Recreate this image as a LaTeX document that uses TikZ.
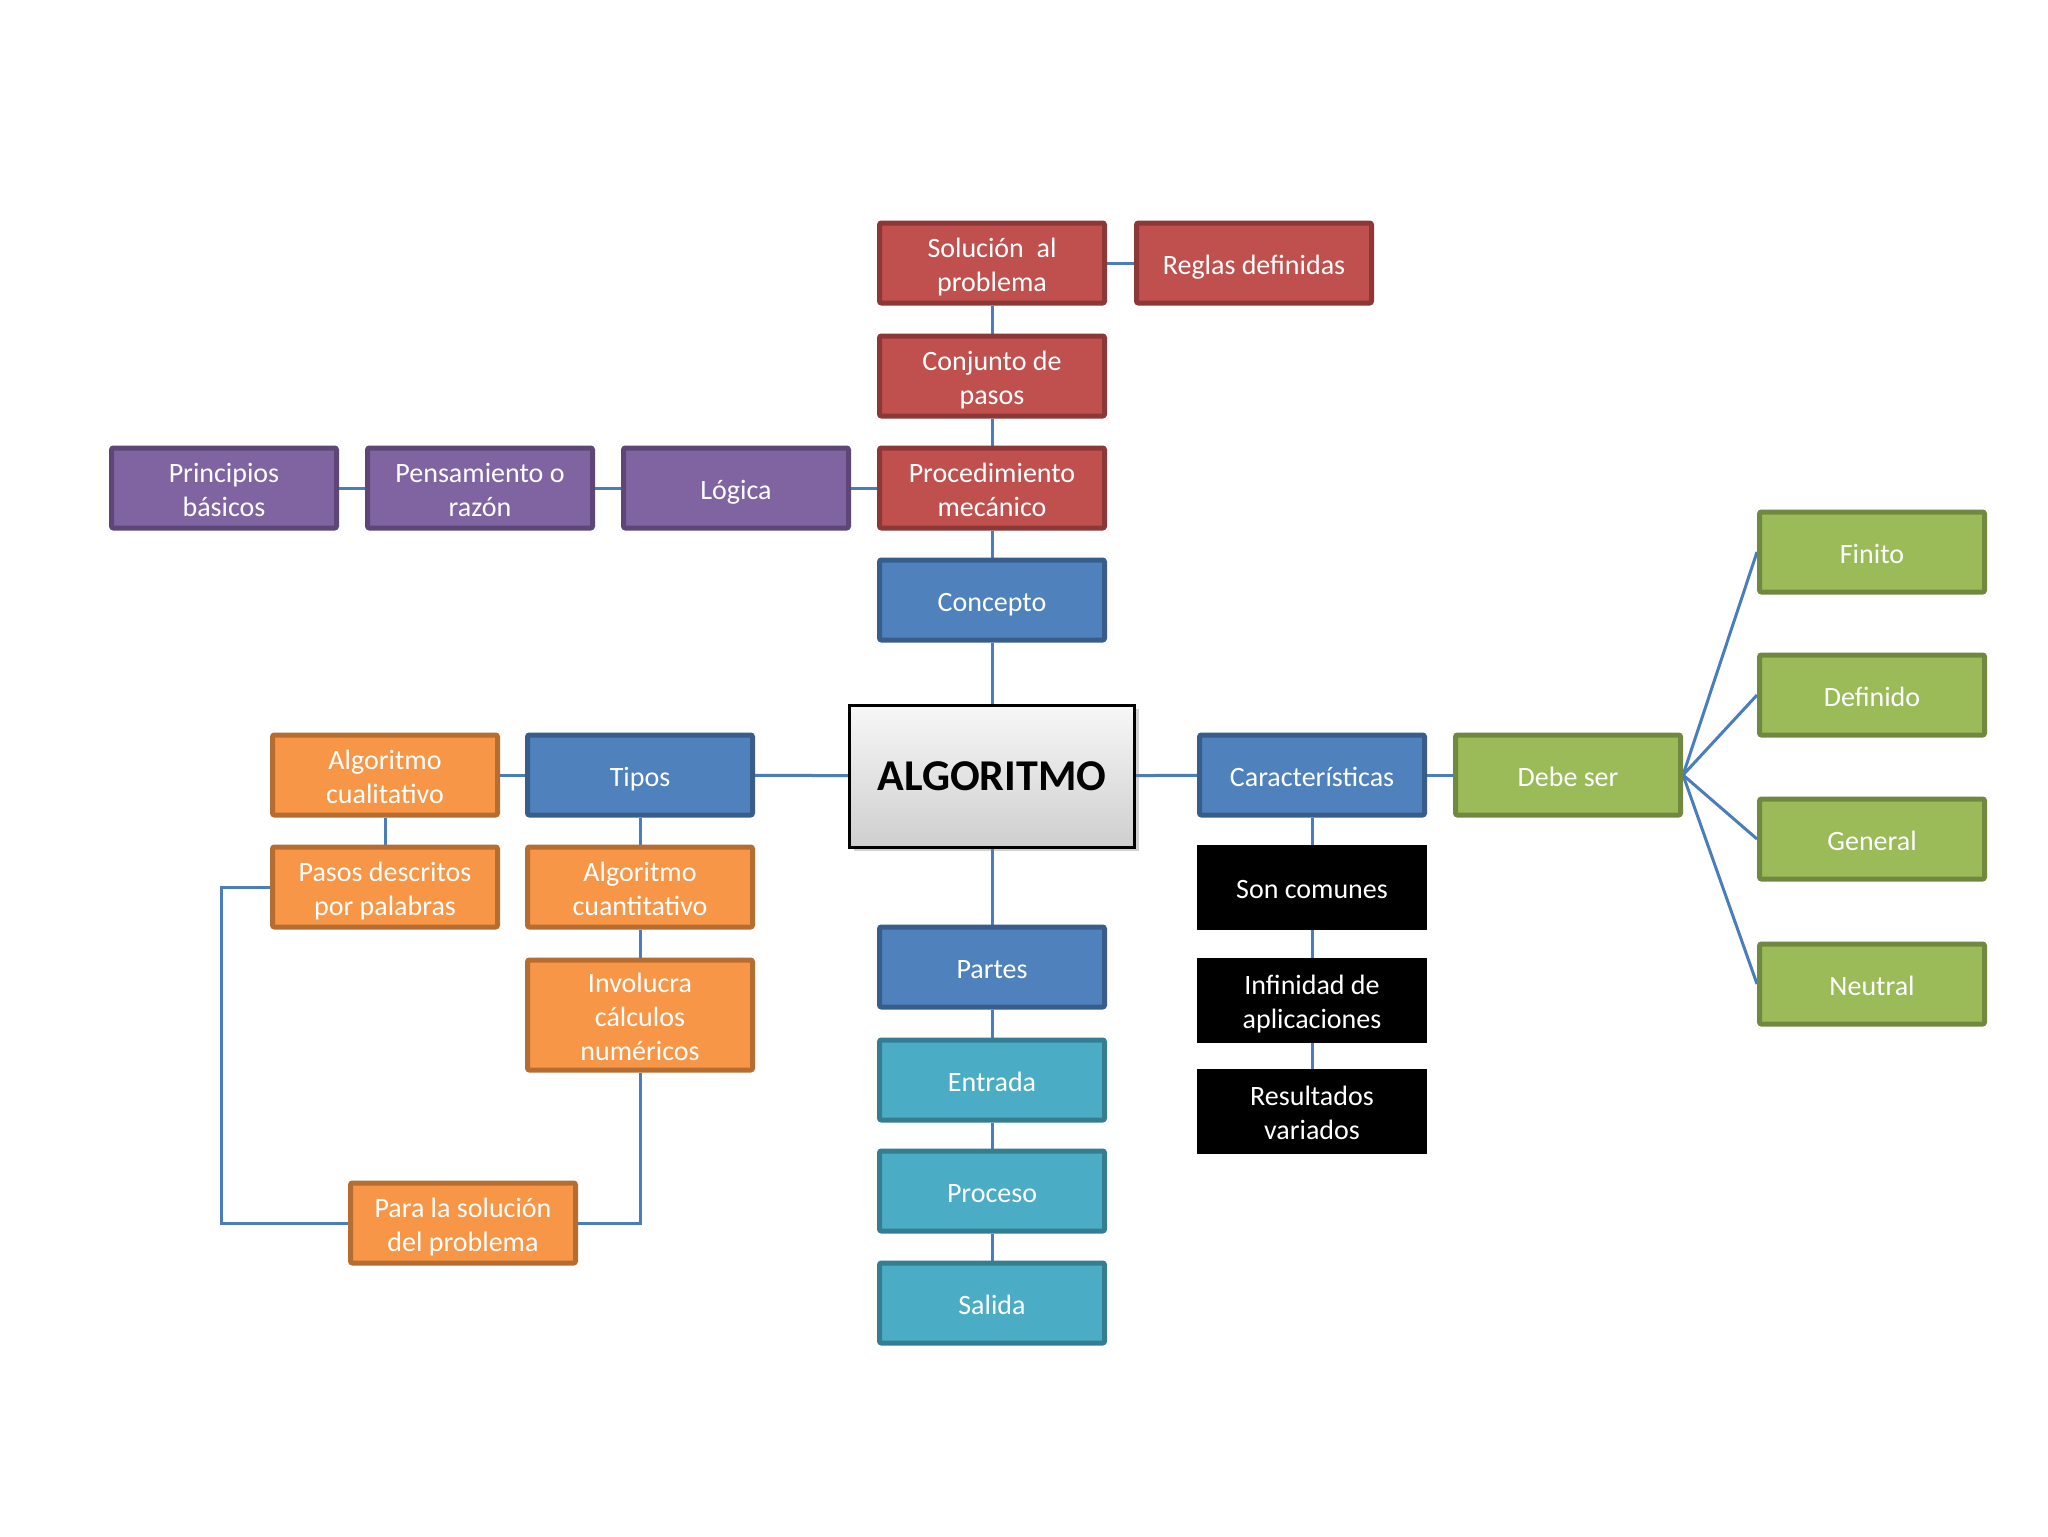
\documentclass[tikz,border=0pt]{standalone}
\usepackage{fontspec}
\setmainfont{Carlito}
\usetikzlibrary{backgrounds,shadows}
\definecolor{redf}{HTML}{C0504D}
\definecolor{redd}{HTML}{8C3836}
\definecolor{purf}{HTML}{8064A2}
\definecolor{purd}{HTML}{5C4776}
\definecolor{bluf}{HTML}{4F81BD}
\definecolor{blud}{HTML}{385D8A}
\definecolor{oraf}{HTML}{F79646}
\definecolor{orad}{HTML}{B66D31}
\definecolor{grnf}{HTML}{9BBB59}
\definecolor{grnd}{HTML}{71893F}
\definecolor{teaf}{HTML}{4BACC6}
\definecolor{tead}{HTML}{357D91}
\definecolor{linkc}{HTML}{4A7EBB}
\tikzset{
  box/.style={rectangle, rounded corners=1pt, line width=2.5pt,
    minimum width=112.5pt, minimum height=40pt, align=center,
    inner sep=0pt, font=\fontsize{14}{17}\selectfont, text=white,
    text height=14.5pt, text depth=3.5pt},
  two/.style={text height=31.5pt},
  three/.style={text height=48.5pt},
  redbox/.style={box, fill=redf, draw=redd},
  purbox/.style={box, fill=purf, draw=purd},
  blubox/.style={box, fill=bluf, draw=blud},
  orabox/.style={box, fill=oraf, draw=orad},
  grnbox/.style={box, fill=grnf, draw=grnd},
  teabox/.style={box, fill=teaf, draw=tead},
  blkbox/.style={box, fill=black, draw=black, rounded corners=0pt},
  mainbox/.style={rectangle, line width=1.5pt, draw=black,
    top color=gray!6, bottom color=gray!38,
    minimum width=142.5pt, minimum height=71pt,
    font=\fontsize{22}{26}\selectfont\bfseries, text=black,
    drop shadow={opacity=0.35, shadow xshift=2pt, shadow yshift=-2pt}},
  link/.style={draw=linkc, line width=1.5pt}
}
\begin{document}
\begin{tikzpicture}[x=0.5pt,y=-0.5pt]
\begin{scope}[on background layer]
  \fill[white] (0,0) rectangle (2048,1536);
\end{scope}
\useasboundingbox (0,0) rectangle (2048,1536);

% central column
\node[redbox, two] (sol) at (992,263) {Solución\ \ al\\problema};
\node[redbox, minimum width=117.5pt] (reglas) at (1254,263) {Reglas definidas};
\node[redbox, two] (conj) at (992,376) {Conjunto de\\pasos};
\node[redbox, two] (proc) at (992,488) {Procedimiento\\mecánico};
\node[blubox] (concepto) at (992,600) {Concepto};
\node[mainbox] (algo) at (992,776) {ALGORITMO};
\node[blubox] (partes) at (992,967) {Partes};
\node[teabox] (entrada) at (992,1080) {Entrada};
\node[teabox] (proceso) at (992,1191) {Proceso};
\node[teabox] (salida) at (992,1303) {Salida};

% purple row
\node[purbox, two] (princ) at (224,488) {Principios\\básicos};
\node[purbox, two] (pens) at (480,488) {Pensamiento o\\razón};
\node[purbox] (logica) at (736,488) {Lógica};

% left branch
\node[blubox] (tipos) at (640,775) {Tipos};
\node[orabox, two] (cualit) at (385,775) {Algoritmo\\cualitativo};
\node[orabox, two] (pasos) at (385,887) {Pasos descritos\\por palabras};
\node[orabox, two] (cuantit) at (640,887) {Algoritmo\\cuantitativo};
\node[orabox, three, minimum height=55pt] (invol) at (640,1015) {Involucra\\cálculos\\numéricos};
\node[orabox, two] (para) at (463,1223) {Para la solución\\del problema};
\coordinate (loopL) at (221,887);

% right branch
\node[blubox] (caract) at (1312,775) {Características};
\node[grnbox] (debe) at (1568,775) {Debe ser};
\node[blkbox] (soncom) at (1312,887) {Son comunes};
\node[blkbox, two] (infin) at (1312,1000) {Infinidad de\\aplicaciones};
\node[blkbox, two] (result) at (1312,1111) {Resultados\\variados};
\node[grnbox] (finito) at (1872,552) {Finito};
\node[grnbox] (defin) at (1872,695) {Definido};
\node[grnbox] (general) at (1872,839) {General};
\node[grnbox] (neutral) at (1872,984) {Neutral};

\begin{scope}[on background layer]
  \draw[link] (sol) -- (reglas);
  \draw[link] (sol) -- (conj);
  \draw[link] (conj) -- (proc);
  \draw[link] (proc) -- (concepto);
  \draw[link] (concepto) -- (algo);
  \draw[link] (princ) -- (pens);
  \draw[link] (pens) -- (logica);
  \draw[link] (logica) -- (proc);
  \draw[link] (algo) -- (tipos);
  \draw[link] (tipos) -- (cualit);
  \draw[link] (cualit) -- (pasos);
  \draw[link] (tipos) -- (cuantit);
  \draw[link] (cuantit) -- (invol);
  \draw[link] (pasos.west) -- (loopL) |- (para.west);
  \draw[link] (invol.south) |- (para.east);
  \draw[link] (algo) -- (partes);
  \draw[link] (partes) -- (entrada);
  \draw[link] (entrada) -- (proceso);
  \draw[link] (proceso) -- (salida);
  \draw[link] (algo) -- (caract);
  \draw[link] (caract) -- (debe);
  \draw[link] (caract) -- (soncom);
  \draw[link] (soncom) -- (infin);
  \draw[link] (infin) -- (result);
  \draw[link] (debe.east) -- (finito.west);
  \draw[link] (debe.east) -- (defin.west);
  \draw[link] (debe.east) -- (general.west);
  \draw[link] (debe.east) -- (neutral.west);
\end{scope}
\end{tikzpicture}
\end{document}
